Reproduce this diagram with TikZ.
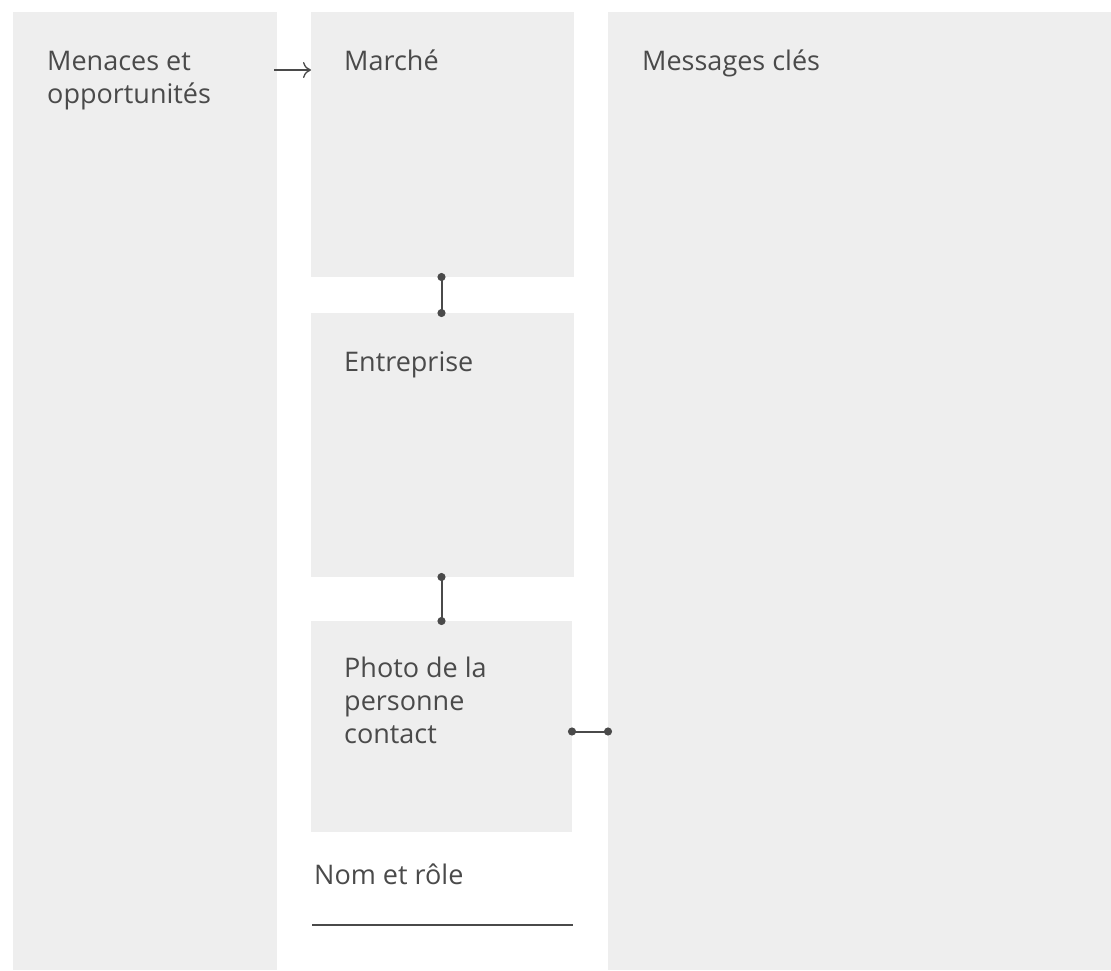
\documentclass[tikz,border=0pt]{standalone}
\usepackage{fontspec}
\setmainfont{Open Sans}
\usetikzlibrary{arrows.meta,positioning}
\definecolor{panelgrey}{HTML}{EEEEEE}
\definecolor{inkgrey}{HTML}{4A4A4A}
\tikzset
{
    panel/.style = {rectangle, fill=panelgrey, inner sep=0, outer sep=0, anchor=north west},
    caption/.style = {anchor=base west, inner sep=0, align=left, text=inkgrey, font=\fontsize{27}{33}\selectfont},
    dotlink/.style = {draw=inkgrey, line width=2pt, {Circle[length=8pt]}-{Circle[length=8pt]}, shorten <=-4pt, shorten >=-4pt},
    flow/.style = {draw=inkgrey, line width=1.3pt, -{To[length=8pt,width=16pt]}}
}

\begin{document}
\begin{tikzpicture}[x=1pt,y=-1pt]
		\useasboundingbox (0,0) rectangle (1111,970);
		% columns
		\node[panel, minimum width=264pt, minimum height=958pt] (menaces) at (13,12) {};
		\node[panel, minimum width=263pt, minimum height=265pt] (marche) at (311,12) {};
		\node[panel, minimum width=263pt, minimum height=264pt] (entreprise) at (311,313) {};
		\node[panel, minimum width=261pt, minimum height=211pt] (photo) at (311,621) {};
		\node[panel, minimum width=503pt, minimum height=958pt] (messages) at (608,12) {};
		% texts (multi-line: base is the last line)
		\node[caption] (menacestxt) at ([shift={(34,91)}]menaces.north west) {Menaces et\\opportunités};
		\node[caption] (marchetxt) at ([shift={(33,58)}]marche.north west) {Marché};
		\node[caption] (entreprisetxt) at ([shift={(33,58)}]entreprise.north west) {Entreprise};
		\node[caption] (phototxt) at ([shift={(33,122)}]photo.north west) {Photo de la\\personne\\contact};
		\node[caption] (messagestxt) at ([shift={(34,58)}]messages.north west) {Messages clés};
		\node[caption] (nomtxt) at ([shift={(3,52)}]photo.south west) {Nom et rôle};
		% links
		\coordinate (flowstart) at ([shift={(-3,58)}]menaces.north east);
		\draw[flow] (flowstart) -- (flowstart -| marche.west);
		\coordinate (linkx) at ([xshift=-1pt]marche.south);
		\draw[dotlink] (linkx) -- (linkx |- entreprise.north);
		\draw[dotlink] (linkx |- entreprise.south) -- (linkx |- photo.north);
		\draw[dotlink] ([yshift=-5pt]photo.east) -- ([yshift=-5pt]photo.east -| messages.west);
		\draw[draw=inkgrey, line width=2pt] ([shift={(1,93)}]photo.south west) -- ([shift={(1,93)}]photo.south east);
\end{tikzpicture}
\end{document}
